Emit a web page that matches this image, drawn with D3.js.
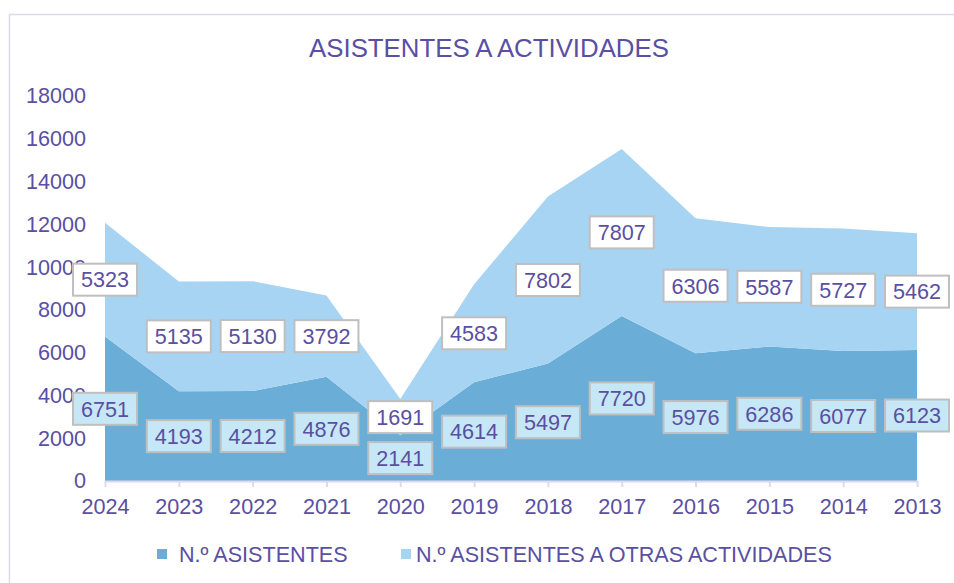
<!DOCTYPE html>
<html>
<head>
<meta charset="utf-8">
<script src="https://cdn.jsdelivr.net/npm/d3@7"></script>
<style>
  body { margin: 0; background: #fff; }
  svg { display: block; font-family: "Liberation Sans", Arial, sans-serif; }
</style>
</head>
<body>
<svg id="chart" width="954" height="583"></svg>
<script>
// data
let years = ["2024", "2023", "2022", "2021", "2020", "2019", "2018", "2017", "2016", "2015", "2014", "2013"]
let asistentes = [6751, 4193, 4212, 4876, 2141, 4614, 5497, 7720, 5976, 6286, 6077, 6123]
let otras = [5323, 5135, 5130, 3792, 1691, 4583, 7802, 7807, 6306, 5587, 5727, 5462]
let yTicks = [0, 2000, 4000, 6000, 8000, 10000, 12000, 14000, 16000, 18000]
let seriesNames = ["N.º ASISTENTES", "N.º ASISTENTES A OTRAS ACTIVIDADES"]

let textColor = "#5a4fa2"
let colors = ["#6aaed8", "#a7d4f3"]
let labelFills = ["#c6e7f6", "#ffffff"]
let fs = 21.6

let svg = d3.select("#chart")

// outer frame (runs off the right and bottom)
svg.append("rect")
    .attr("x", 9.5).attr("y", 14.5)
    .attr("width", 1000).attr("height", 1000)
    .attr("fill", "none")
    .attr("stroke", "#dcd8ef")
    .attr("stroke-width", 1.5)

svg.append("text")
    .attr("x", 489).attr("y", 57)
    .attr("text-anchor", "middle")
    .attr("font-size", 25.8)
    .attr("fill", textColor)
    .text("ASISTENTES A ACTIVIDADES")

let x = d3.scalePoint().domain(years).range([105, 917])
let y = d3.scaleLinear().domain([0, 18000]).range([481, 96])

let rows = years.map((yr, i) => ({ year: yr, a: asistentes[i], b: otras[i] }))
let stacked = d3.stack().keys(["a", "b"])(rows)

let area = d3.area()
    .x(d => x(d.data.year))
    .y0(d => y(d[0]))
    .y1(d => y(d[1]))

svg.append("g").selectAll("path")
    .data(stacked)
    .enter()
    .append("path")
    .attr("d", area)
    .attr("fill", (d, i) => colors[i])

// y axis: labels only
let yAxis = svg.append("g")
    .attr("transform", "translate(86,0)")
    .call(d3.axisLeft(y).tickValues(yTicks).tickSize(0).tickPadding(0).tickFormat(d3.format("d")))
yAxis.select(".domain").remove()
yAxis.selectAll("text")
    .attr("font-size", fs)
    .attr("fill", textColor)
    .attr("font-family", "Liberation Sans, Arial, sans-serif")

// x axis
let xAxis = svg.append("g")
    .attr("transform", "translate(0,481)")
    .call(d3.axisBottom(x).tickSize(6).tickSizeOuter(0).tickPadding(12))
xAxis.select(".domain").attr("stroke", "#dcd8ef").attr("stroke-width", 2)
xAxis.selectAll(".tick line").attr("stroke", "#dcd8ef").attr("stroke-width", 2)
xAxis.selectAll("text")
    .attr("font-size", fs)
    .attr("fill", textColor)
    .attr("font-family", "Liberation Sans, Arial, sans-serif")

// data labels in the middle of each band
let labels = svg.append("g")
stacked.forEach((s, si) => {
    let g = labels.selectAll(".lab" + si)
        .data(s)
        .enter()
        .append("g")
        .attr("transform", d => "translate(" + x(d.data.year) + "," + y((d[0] + d[1]) / 2) + ")")
    g.append("rect")
        .attr("x", -32).attr("y", -16)
        .attr("width", 64).attr("height", 32)
        .attr("fill", labelFills[si])
        .attr("stroke", "#bfbfbf")
        .attr("stroke-width", 2)
    g.append("text")
        .attr("text-anchor", "middle")
        .attr("dy", "0.36em")
        .attr("font-size", fs)
        .attr("fill", textColor)
        .text(d => d[1] - d[0])
})

// legend
let legendX = [157, 401]
let legend = svg.append("g")
seriesNames.forEach((name, i) => {
    legend.append("rect")
        .attr("x", legendX[i]).attr("y", 549)
        .attr("width", 10).attr("height", 10)
        .attr("fill", colors[i])
    legend.append("text")
        .attr("x", legendX[i] + (i == 0 ? 22 : 15)).attr("y", 562)
        .attr("font-size", fs)
        .attr("fill", textColor)
        .text(name)
})
</script>
</body>
</html>
